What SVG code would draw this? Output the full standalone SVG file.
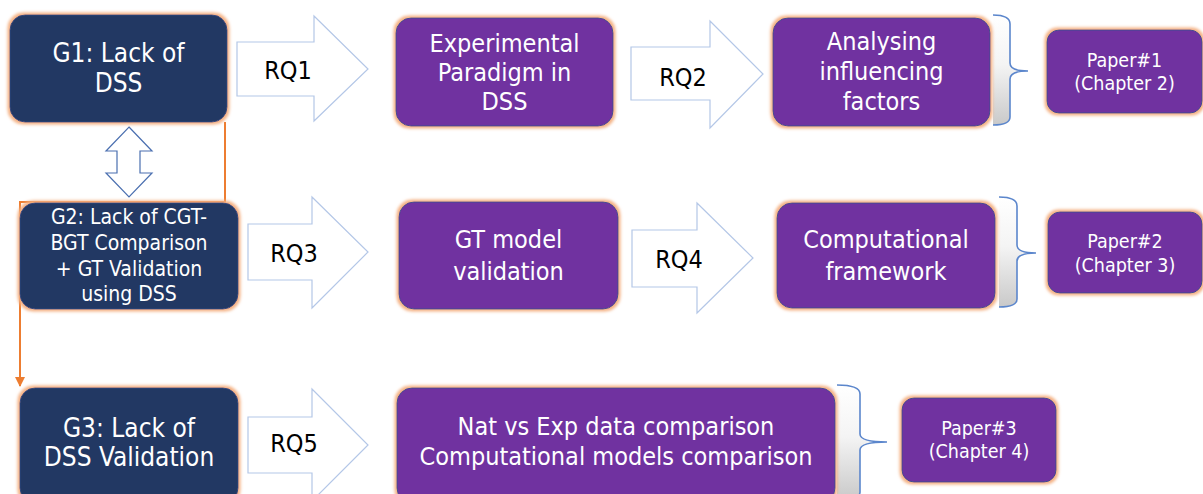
<svg xmlns="http://www.w3.org/2000/svg" width="1203" height="494" viewBox="0 0 1203 494">
  <defs>
    <filter id="glow" x="-10%" y="-15%" width="120%" height="130%">
      <feMorphology in="SourceAlpha" operator="dilate" radius="2" result="d"/>
      <feGaussianBlur in="d" stdDeviation="1.6" result="b"/>
      <feFlood flood-color="#F4B183"/>
      <feComposite in2="b" operator="in" result="g"/>
      <feMerge><feMergeNode in="g"/><feMergeNode in="SourceGraphic"/></feMerge>
    </filter>
    <linearGradient id="braceFill" x1="0" y1="0" x2="0" y2="1">
      <stop offset="0" stop-color="#ffffff"/>
      <stop offset="0.45" stop-color="#f4f4f4"/>
      <stop offset="1" stop-color="#c9c9c9"/>
    </linearGradient>
    <marker id="orangeHead" viewBox="0 0 10 10" refX="9" refY="5" markerWidth="5" markerHeight="5" orient="auto" markerUnits="strokeWidth">
      <path d="M0,0 L10,5 L0,10 z" fill="#ED7D31"/>
    </marker>
    <style>
      .goal { fill: #203864; stroke: #2F4A80; stroke-width: 1; filter: url(#glow); }
      .topic { fill: #7030A0; stroke: #3F4F8F; stroke-width: 1; filter: url(#glow); }
      .txt { font-family: "DejaVu Sans Condensed", "DejaVu Sans", sans-serif; fill: #ffffff; text-anchor: middle; }
      .big { font-size: 25px; }
      .mid { font-size: 21px; }
      .small { font-size: 19.5px; }
      .rq { font-family: "DejaVu Sans Condensed", "DejaVu Sans", sans-serif; font-size: 25px; fill: #000000; text-anchor: middle; }
      .block { fill: #ffffff; stroke: #B4C7E7; stroke-width: 1.2; }
      .dbl { fill: #ffffff; stroke: #4A6FB0; stroke-width: 1.2; }
      .brace { fill: none; stroke: #5B86CC; stroke-width: 1.6; }
      .braceBg { fill: url(#braceFill); stroke: none; }
      .flow { fill: none; stroke: #ED7D31; stroke-width: 2; }
    </style>
  </defs>

  <!-- connectors: block arrows, double arrow, elbow link, braces -->
  <g id="connectors">
    <polygon class="block" points="237,42 314,42 314,16 368,69 314,121 314,96 237,96"/>
    <polygon class="block" points="631,47 710,47 710,21 763,74 710,128 710,100 631,100"/>
    <polygon class="block" points="248,224 312,224 312,197 368,252 312,308 312,280 248,280"/>
    <polygon class="block" points="632,230 697,230 697,203 753,258 697,313 697,287 632,287"/>
    <polygon class="block" points="248,417 312,417 312,389 368,445 312,501 312,473 248,473"/>
    <text class="rq" x="288" y="79">RQ1</text>
    <text class="rq" x="683" y="86">RQ2</text>
    <text class="rq" x="294" y="262">RQ3</text>
    <text class="rq" x="679" y="268">RQ4</text>
    <text class="rq" x="294" y="452">RQ5</text>

    <polygon class="dbl" points="129,127 152,151 140,151 140,173 152,173 129,197 106,173 117,173 117,151 106,151"/>

    <path class="flow" d="M225,122 V202 H20 V386" marker-end="url(#orangeHead)"/>

    <path class="braceBg" d="M993,15 C1003,15 1010,17 1010,24 L1010,63 C1010,69 1018,71 1028,71 C1018,71 1010,73 1010,79 L1010,117 C1010,123 1003,125 993,125 Z"/>
    <path class="brace" d="M993,15 C1003,15 1010,17 1010,24 L1010,63 C1010,69 1018,71 1028,71 C1018,71 1010,73 1010,79 L1010,117 C1010,123 1003,125 993,125"/>

    <path class="braceBg" d="M999,197 C1009,197 1017,199 1017,206 L1017,245 C1017,251 1026,253 1036,253 C1026,253 1017,255 1017,261 L1017,299 C1017,305 1009,307 999,307 Z"/>
    <path class="brace" d="M999,197 C1009,197 1017,199 1017,206 L1017,245 C1017,251 1026,253 1036,253 C1026,253 1017,255 1017,261 L1017,299 C1017,305 1009,307 999,307"/>

    <path class="braceBg" d="M837,385 C850,385 860,387 860,394 L860,434 C860,440 873,442 887,442 C873,442 860,444 860,450 L860,492 C860,498 850,500 837,500 Z"/>
    <path class="brace" d="M837,385 C850,385 860,387 860,394 L860,434 C860,440 873,442 887,442 C873,442 860,444 860,450 L860,492 C860,498 850,500 837,500"/>
  </g>

  <!-- goals -->
  <g id="g1">
    <rect class="goal" x="10" y="15" width="217" height="107" rx="15"/>
    <text class="txt" style="font-size:26px" x="118.5" y="62">G1: Lack of</text>
    <text class="txt" style="font-size:26px" x="118.5" y="92">DSS</text>
  </g>
  <g id="g2">
    <rect class="goal" x="20" y="203" width="218" height="106" rx="15"/>
    <text class="txt mid" x="129" y="224">G2: Lack of CGT-</text>
    <text class="txt mid" x="129" y="250">BGT Comparison</text>
    <text class="txt mid" x="129" y="276">+ GT Validation</text>
    <text class="txt mid" x="129" y="301">using DSS</text>
  </g>
  <g id="g3">
    <rect class="goal" x="20" y="388" width="218" height="115" rx="15"/>
    <text class="txt" style="font-size:26px" x="129" y="437">G3: Lack of</text>
    <text class="txt" style="font-size:26px" x="129" y="466">DSS Validation</text>
  </g>

  <!-- research topics -->
  <g id="experimental-paradigm">
    <rect class="topic" x="396" y="18" width="217" height="108" rx="15"/>
    <text class="txt big" x="504.5" y="52">Experimental</text>
    <text class="txt big" x="504.5" y="81">Paradigm in</text>
    <text class="txt big" x="504.5" y="110">DSS</text>
  </g>
  <g id="influencing-factors">
    <rect class="topic" x="773" y="18" width="217" height="108" rx="15"/>
    <text class="txt big" x="881.5" y="50">Analysing</text>
    <text class="txt big" x="881.5" y="80">influencing</text>
    <text class="txt big" x="881.5" y="110">factors</text>
  </g>
  <g id="gt-validation">
    <rect class="topic" x="399" y="202" width="219" height="107" rx="15"/>
    <text class="txt big" x="508.5" y="248">GT model</text>
    <text class="txt big" x="508.5" y="280">validation</text>
  </g>
  <g id="computational-framework">
    <rect class="topic" x="777" y="203" width="218" height="105" rx="15"/>
    <text class="txt big" x="886" y="248">Computational</text>
    <text class="txt big" x="886" y="280">framework</text>
  </g>
  <g id="comparisons">
    <rect class="topic" x="397" y="388" width="438" height="115" rx="15"/>
    <text class="txt big" x="616" y="435">Nat vs Exp data comparison</text>
    <text class="txt big" x="616" y="465">Computational models comparison</text>
  </g>

  <!-- papers -->
  <g id="paper1">
    <rect class="topic" x="1047" y="30" width="155" height="83" rx="12"/>
    <text class="txt small" x="1124.5" y="67">Paper#1</text>
    <text class="txt small" x="1124.5" y="90">(Chapter 2)</text>
  </g>
  <g id="paper2">
    <rect class="topic" x="1048" y="212" width="154" height="81" rx="12"/>
    <text class="txt small" x="1125" y="248">Paper#2</text>
    <text class="txt small" x="1125" y="272">(Chapter 3)</text>
  </g>
  <g id="paper3">
    <rect class="topic" x="902" y="398" width="154" height="84" rx="12"/>
    <text class="txt small" x="979" y="435">Paper#3</text>
    <text class="txt small" x="979" y="458">(Chapter 4)</text>
  </g>
</svg>
